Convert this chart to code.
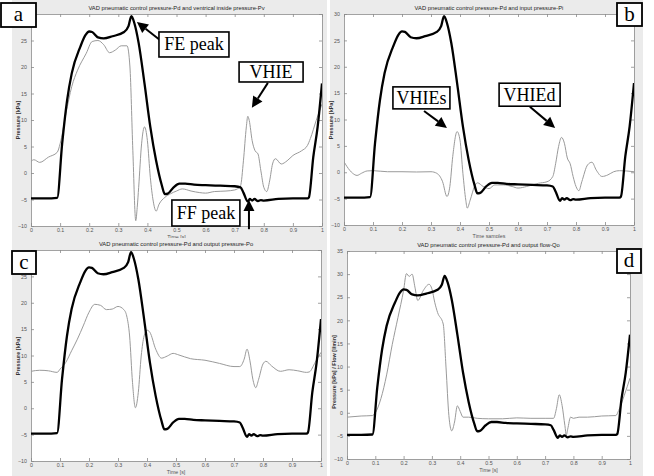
<!DOCTYPE html>
<html>
<head>
<meta charset="utf-8">
<script src="https://cdn.jsdelivr.net/npm/d3@7"></script>
<style>
  body { margin: 0; background: #fff; }
  svg { display: block; }
</style>
</head>
<body>
<script>
const {select, scaleLinear, line, curveMonotoneX, axisBottom, axisLeft, axisTop, axisRight} = d3;

// time axis of the recordings (s)
const xTicks = [0, 0.1, 0.2, 0.3, 0.4, 0.5, 0.6, 0.7, 0.8, 0.9, 1];

// pneumatic control pressure Pd (thick black, same in every panel)
const pdT = [0, 0.05, 0.09, 0.107, 0.124, 0.14, 0.17, 0.187, 0.2, 0.21, 0.23, 0.25, 0.28, 0.32, 0.335, 0.345, 0.355, 0.37, 0.39, 0.41, 0.43, 0.45, 0.46, 0.47, 0.49, 0.51, 0.53, 0.56, 0.6, 0.65, 0.7, 0.72, 0.73, 0.745, 0.752, 0.76, 0.768, 0.78, 0.79, 0.8, 0.85, 0.9, 0.95, 0.955, 0.97, 0.985, 1];
const pdV = [-4.8, -4.8, -4.7, 5.5, 13.7, 18.8, 23.9, 26, 26.7, 26.6, 25.6, 25.4, 25.8, 26.6, 27.7, 29.6, 28.3, 24.5, 16.9, 8.7, 2.3, -2.4, -4, -3.9, -2.7, -2, -2, -2.2, -2.3, -2.4, -2.5, -2.7, -3.7, -5.4, -4.9, -5.2, -4.9, -5.3, -5.1, -5.2, -4.9, -4.8, -4.8, -4.6, 3, 8.7, 16.9];

// ventricle inside pressure Pv (panel a)
const pvT = [0, 0.01, 0.03, 0.06, 0.09, 0.1, 0.12, 0.14, 0.16, 0.19, 0.21, 0.23, 0.25, 0.27, 0.29, 0.31, 0.33, 0.34, 0.35, 0.36, 0.365, 0.37, 0.38, 0.39, 0.4, 0.41, 0.42, 0.43, 0.44, 0.46, 0.48, 0.5, 0.52, 0.55, 0.58, 0.6, 0.63, 0.67, 0.7, 0.72, 0.73, 0.74, 0.745, 0.75, 0.76, 0.77, 0.78, 0.79, 0.8, 0.81, 0.82, 0.83, 0.84, 0.86, 0.88, 0.9, 0.93, 0.95, 0.96, 0.98, 1];
const pvV = [2.2, 2.5, 2.0, 3, 3.9, 5.5, 11.2, 16.3, 19.4, 22.6, 24.8, 25, 24.2, 22.7, 23.2, 24, 24, 20, 4.2, -9, -6.5, -2.7, 5.5, 8.7, 6.1, -0.8, -5.3, -7.2, -5.9, -4.6, -3.9, -3.4, -3, -3.4, -3.7, -3.8, -3.5, -3.4, -3.2, -2.4, 2.3, 8.7, 10.7, 9.9, 6.1, 4.2, 3.6, 0.4, -2.7, -3.5, -1.5, 1.7, 2.7, 1.7, 2.3, 3.3, 4.2, 5.2, 6.5, 9.9, 13];

// input pressure Pi (panel b)
const piT = [0, 0.01, 0.03, 0.045, 0.06, 0.08, 0.1, 0.15, 0.2, 0.25, 0.3, 0.32, 0.34, 0.355, 0.365, 0.375, 0.39, 0.4, 0.41, 0.42, 0.425, 0.435, 0.45, 0.46, 0.48, 0.5, 0.52, 0.55, 0.58, 0.6, 0.63, 0.67, 0.7, 0.72, 0.73, 0.74, 0.75, 0.76, 0.77, 0.78, 0.79, 0.8, 0.81, 0.82, 0.84, 0.855, 0.87, 0.89, 0.91, 0.93, 0.95, 1];
const piV = [2.0, 1.1, -0.2, -0.6, -0.2, 0.25, 0.3, 0.1, 0.1, 0.05, 0.1, -0.2, -1.8, -4.6, -2.7, 3, 7.7, 6.1, -0.2, -5.3, -6.8, -5.3, -2.7, -2, -2.7, -3.1, -2.4, -2.4, -2.7, -3, -2.7, -2.1, -1.8, -0.8, 1.7, 4.9, 6.6, 5.5, 2.7, 1.6, -0.8, -2.7, -3.5, -1.8, 1.4, 1.9, 0.4, -0.8, -0.5, 0.1, 0.3, 0.1];

// output pressure Po (panel c)
const poT = [0, 0.03, 0.06, 0.09, 0.1, 0.12, 0.14, 0.16, 0.18, 0.2, 0.22, 0.24, 0.26, 0.28, 0.3, 0.32, 0.33, 0.34, 0.35, 0.36, 0.37, 0.38, 0.39, 0.4, 0.41, 0.43, 0.45, 0.47, 0.49, 0.51, 0.55, 0.6, 0.65, 0.7, 0.72, 0.735, 0.745, 0.755, 0.765, 0.775, 0.785, 0.8, 0.81, 0.83, 0.86, 0.89, 0.92, 0.95, 0.96, 0.98, 1];
const poV = [7.0, 7.2, 7.1, 6.8, 7.4, 8.7, 10.9, 13.1, 15.6, 18.2, 19.7, 19.5, 18.7, 18.8, 19.3, 18.7, 17.5, 13.7, 4.9, 0.1, 3, 9.9, 13.7, 14.8, 14.4, 11.2, 9.5, 9.9, 10.4, 10.1, 9.4, 9.1, 8.5, 7.9, 7.9, 9.3, 11.2, 9, 5.5, 3.9, 5.5, 8.4, 8.9, 8, 7, 7.3, 7.1, 6.8, 6.9, 8.7, 10.6];

// output flow Qo (panel d)
const qoT = [0, 0.05, 0.09, 0.1, 0.12, 0.14, 0.16, 0.18, 0.2, 0.21, 0.22, 0.23, 0.24, 0.25, 0.27, 0.29, 0.3, 0.31, 0.32, 0.34, 0.35, 0.36, 0.37, 0.38, 0.39, 0.4, 0.41, 0.43, 0.46, 0.5, 0.55, 0.6, 0.65, 0.7, 0.73, 0.74, 0.75, 0.76, 0.77, 0.775, 0.78, 0.79, 0.8, 0.82, 0.85, 0.9, 0.95, 0.96, 0.98, 1];
const qoV = [-0.95, -0.7, -0.6, 0, 3.1, 8.2, 14.8, 20.6, 26.5, 30.1, 29.5, 30, 27.2, 24.3, 26.5, 27.8, 26.8, 23.9, 21.7, 19.2, 9.7, -0.6, -3.9, -2, 1.5, 0.3, -0.95, -0.95, -1.2, -1.3, -1.3, -1.1, -1.2, -1.2, -1.2, 0.9, 3.9, 1.6, -2.8, -4.8, -3.5, -0.95, -1.2, -0.95, -0.95, -0.7, -0.6, 0.5, 3.8, 7.5];

const yTicksP = [-10, -5, 0, 5, 10, 15, 20, 25, 30];
const yTicksQ = [-10, -5, 0, 5, 10, 15, 20, 25, 30, 35];

const panels = [
  {id: 'a', fig: [12, 0, 327, 240], ax: [31, 14, 322, 226], yDom: [-10, 30], yTicks: yTicksP, hideTop: true,
   title: 'VAD pneumatic control pressure-Pd and ventrical inside pressure-Pv',
   xLabel: 'Time  [s]', yLabel: 'Pressure  [kPa]', yLabelY: 120,
   t: pvT, v: pvV, box: [1, 3, 35, 24],
   notes: [
     {text: 'FE peak', c: [0.56, 24.25], w: 70, h: 25, from: [0.443, 25.1], to: [0.364, 28.5]},
     {text: 'VHIE', c: [0.825, 19.06], w: 64, h: 20, from: [0.814, 17], to: [0.759, 12.3]},
     {text: 'FF peak', c: [0.601, -7.55], w: 68, h: 26, from: [0.749, -10.6], to: [0.749, -5.1]}
   ]},
  {id: 'b', fig: [330, 0, 643, 240], ax: [344, 14, 634, 225], yDom: [-10, 30], yTicks: yTicksP, hideTop: false,
   title: 'VAD pneumatic control pressure-Pd and input pressure-Pi',
   xLabel: 'Time samples', yLabel: 'Pressure  [kPa]', yLabelY: 120,
   t: piT, v: piV, box: [617, 3, 25, 23],
   notes: [
     {text: 'VHIEs', c: [0.267, 14.1], w: 57, h: 22, from: [0.276, 11.6], to: [0.355, 8.4]},
     {text: 'VHIEd', c: [0.64, 14.7], w: 61, h: 23, from: [0.641, 12.4], to: [0.728, 8.4]}
   ]},
  {id: 'c', fig: [12, 238, 327, 476], ax: [31, 250, 321, 461], yDom: [-10, 30], yTicks: yTicksP, hideTop: true,
   title: 'VAD pneumatic control pressure-Pd and output pressure-Po',
   xLabel: 'Time  [s]', yLabel: 'Pressure  [kPa]', yLabelY: 356,
   t: poT, v: poV, box: [12, 251, 24, 23], notes: []},
  {id: 'd', fig: [330, 238, 643, 476], ax: [347, 251, 630, 459], yDom: [-10, 35], yTicks: yTicksQ, hideTop: false,
   title: 'VAD pneumatic control pressure-Pd and output flow-Qo',
   xLabel: 'Time [s]', yLabel: 'Pressure [kPa] / Flow [l/min]', yLabelY: 372,
   t: qoT, v: qoV, box: [617, 249, 24, 24], notes: []}
];

const svg = select('body')
    .append('svg')
    .attr('width', 654)
    .attr('height', 476);

panels.forEach(p => {
    const [fx0, fy0, fx1, fy1] = p.fig;
    const [l, t, r, b] = p.ax;

    svg.append('rect')
        .attr('x', fx0).attr('y', fy0)
        .attr('width', fx1 - fx0).attr('height', fy1 - fy0)
        .attr('fill', '#ebebeb');

    svg.append('rect')
        .attr('x', l).attr('y', t)
        .attr('width', r - l).attr('height', b - t)
        .attr('fill', '#fff');

    const x = scaleLinear().domain([0, 1]).range([l, r]);
    const y = scaleLinear().domain(p.yDom).range([b, t]);

    const g = svg.append('g');

    const styleAxis = sel => {
        sel.select('.domain').attr('stroke', '#8a8a8a').attr('stroke-width', 0.8);
        sel.selectAll('.tick line').attr('stroke', '#8a8a8a').attr('stroke-width', 0.8);
        sel.selectAll('text')
            .attr('fill', '#555')
            .style('font-family', 'Liberation Sans, Arial, sans-serif')
            .style('font-size', '5.3px');
    };

    g.append('g')
        .attr('transform', `translate(0,${b})`)
        .call(axisBottom(x).tickValues(xTicks).tickSizeInner(-3).tickSizeOuter(0).tickPadding(2)
            .tickFormat(d => d3.format('~g')(d)))
        .call(styleAxis);
    g.append('g')
        .attr('transform', `translate(0,${t})`)
        .call(axisTop(x).tickValues(xTicks).tickSizeInner(-3).tickSizeOuter(0).tickFormat(''))
        .call(styleAxis);
    const yVals = p.hideTop ? p.yTicks.filter(v => v < p.yDom[1]) : p.yTicks;
    g.append('g')
        .attr('transform', `translate(${l},0)`)
        .call(axisLeft(y).tickValues(yVals).tickSizeInner(-3).tickSizeOuter(0).tickPadding(4))
        .call(styleAxis);
    g.append('g')
        .attr('transform', `translate(${r},0)`)
        .call(axisRight(y).tickValues(p.yTicks).tickSizeInner(-3).tickSizeOuter(0).tickFormat(''))
        .call(styleAxis);

    // title and axis labels
    svg.append('text')
        .attr('x', (l + r) / 2).attr('y', t - 4)
        .attr('text-anchor', 'middle')
        .attr('fill', '#222')
        .style('font-family', 'Liberation Sans, Arial, sans-serif')
        .style('font-size', '5.8px')
        .text(p.title);
    svg.append('text')
        .attr('x', (l + r) / 2).attr('y', b + 12.5)
        .attr('text-anchor', 'middle')
        .attr('fill', '#555')
        .style('font-family', 'Liberation Sans, Arial, sans-serif')
        .style('font-size', '5.3px')
        .text(p.xLabel);
    svg.append('text')
        .attr('transform', `translate(${l - 11},${p.yLabelY}) rotate(-90)`)
        .attr('text-anchor', 'middle')
        .attr('fill', '#333')
        .style('font-family', 'Liberation Sans, Arial, sans-serif')
        .style('font-size', '5.5px')
        .style('font-weight', 'bold')
        .text(p.yLabel);

    const clipId = 'clip-' + p.id;
    svg.append('clipPath').attr('id', clipId)
        .append('rect').attr('x', l).attr('y', t).attr('width', r - l).attr('height', b - t);

    const lineGen = line()
        .x(d => x(d[0]))
        .y(d => y(d[1]))
        .curve(curveMonotoneX);

    svg.append('path')
        .datum(p.t.map((tt, i) => [tt, p.v[i]]))
        .attr('clip-path', `url(#${clipId})`)
        .attr('d', lineGen)
        .attr('fill', 'none')
        .attr('stroke', '#9a9a9a')
        .attr('stroke-width', 1);

    svg.append('path')
        .datum(pdT.map((tt, i) => [tt, pdV[i]]))
        .attr('clip-path', `url(#${clipId})`)
        .attr('d', lineGen)
        .attr('fill', 'none')
        .attr('stroke', '#000')
        .attr('stroke-width', 2.3)
        .attr('stroke-linejoin', 'round');

    // annotations
    p.notes.forEach(n => {
        const cx = x(n.c[0]), cy = y(n.c[1]);
        const x1 = x(n.from[0]), y1 = y(n.from[1]);
        const x2 = x(n.to[0]), y2 = y(n.to[1]);
        const ang = Math.atan2(y2 - y1, x2 - x1);
        const hl = 11, hw = 5.5;
        const bx = x2 - hl * Math.cos(ang), by = y2 - hl * Math.sin(ang);
        svg.append('line')
            .attr('x1', x1).attr('y1', y1).attr('x2', bx).attr('y2', by)
            .attr('stroke', '#000').attr('stroke-width', 2);
        svg.append('path')
            .attr('d', `M${x2},${y2}L${bx - hw * Math.sin(ang)},${by + hw * Math.cos(ang)}L${bx + hw * Math.sin(ang)},${by - hw * Math.cos(ang)}Z`)
            .attr('fill', '#000');
        svg.append('rect')
            .attr('x', cx - n.w / 2).attr('y', cy - n.h / 2)
            .attr('width', n.w).attr('height', n.h)
            .attr('fill', '#fff').attr('stroke', '#000').attr('stroke-width', 1.6);
        svg.append('text')
            .attr('x', cx).attr('y', cy + 6)
            .attr('text-anchor', 'middle')
            .style('font-family', 'Liberation Serif, Times New Roman, serif')
            .style('font-size', '18px')
            .text(n.text);
    });

    // panel letter
    const [bx0, by0, bw, bh] = p.box;
    svg.append('rect')
        .attr('x', bx0).attr('y', by0).attr('width', bw).attr('height', bh)
        .attr('fill', '#fff').attr('stroke', '#000').attr('stroke-width', 1.8);
    svg.append('text')
        .attr('x', bx0 + bw / 2).attr('y', by0 + bh / 2 + 6)
        .attr('text-anchor', 'middle')
        .style('font-family', 'Liberation Serif, Times New Roman, serif')
        .style('font-size', '21px')
        .text(p.id);
});
</script>
</body>
</html>
